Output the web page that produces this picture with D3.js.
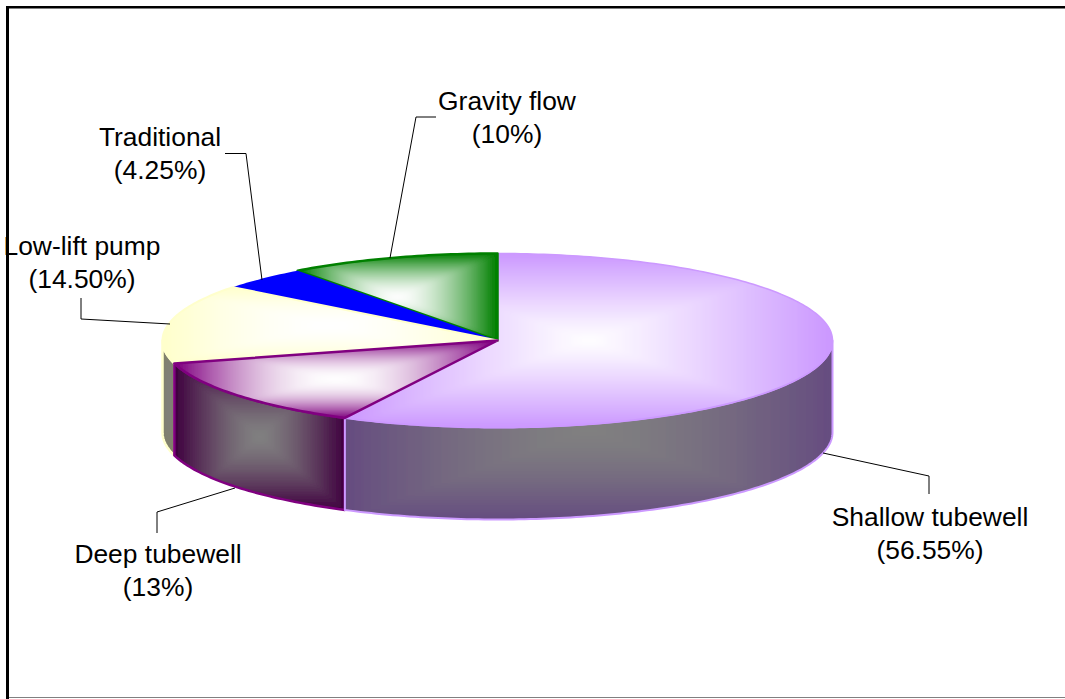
<!DOCTYPE html>
<html>
<head>
<meta charset="utf-8">
<script src="https://cdn.jsdelivr.net/npm/d3@7/dist/d3.min.js"></script>
<style>
html,body{margin:0;padding:0;background:#fff;overflow:hidden}
svg{display:block}
text{font-family:"Liberation Sans",Arial,sans-serif;fill:#000}
</style>
</head>
<body>
<script>
const categories = ["Shallow tubewell", "Deep tubewell", "Low-lift pump", "Traditional", "Gravity flow"];
const values = [56.55, 13, 14.5, 4.25, 10];
const valueLabels = ["(56.55%)", "(13%)", "(14.50%)", "(4.25%)", "(10%)"];
const topColors = ["#CC99FF", "#800080", "#FFFFCC", "#0000FF", "#008000"];
const wallColors = ["#664D80", "#400040", "#808066", "#000080", "#004000"];
const strokeColors = ["#CC99FF", "#800080", "#FFFFCC", "#0000FF", "#008000"];

const W = 1065, H = 699;
const cx = 497.5, cy = 340.5, rx = 335, ry = 87, depth = 92;
const sx = d3.scaleLinear().domain([-1, 1]).range([cx - rx, cx + rx]);
const sy = d3.scaleLinear().domain([-1, 1]).range([cy - ry, cy + ry]);

// gradient falloff and stroke of each top face, in category order
const topStyle = [{power: 1.15, sw: 1.5}, {power: 1.9, sw: 2.5}, {power: 1.6, sw: 2}, {power: 1, sw: 0}, {power: 1.6, sw: 2.5}];

// label + leader layout (pixels), in category order
const labelLayout = [
  {x: 930, y: 526, leader: [[823, 453], [929, 476], [929, 494]]},
  {x: 158, y: 563, leader: [[235, 488], [157, 512], [157, 533]]},
  {x: 82,  y: 255, leader: [[170, 324], [81, 319], [81, 298]]},
  {x: 160, y: 146, leader: [[262, 280], [246, 153.5], [225, 153.5]]},
  {x: 507, y: 110, leader: [[390, 258], [416, 117], [436, 117]]}
];

const arcs = d3.pie().sort(null).value(d => d)(values);

const rimPoint = a => [sx(Math.sin(a)), sy(-Math.cos(a))];
function rim(a0, a1) {
  const n = Math.max(2, Math.ceil(Math.abs(a1 - a0) / (Math.PI / 180)));
  return d3.range(n + 1).map(i => rimPoint(a0 + (a1 - a0) * i / n));
}
const line = d3.line();
const closed = pts => line(pts) + "Z";
const bbox = pts => {
  const [x0, x1] = d3.extent(pts, p => p[0]);
  const [y0, y1] = d3.extent(pts, p => p[1]);
  return {x0, x1, y0, y1};
};

const svg = d3.select("body").append("svg").attr("width", W).attr("height", H);
const defs = svg.append("defs");
defs.append("filter").attr("id", "soft").attr("x", "-10%").attr("y", "-10%").attr("width", "120%").attr("height", "120%")
  .append("feGaussianBlur").attr("stdDeviation", 2.5);

// rectangular "box" gradient: nested rectangles clipped to a shape
function boxFill(id, pts, edge, centre, stroke, sw, power) {
  defs.append("clipPath").attr("id", id).append("path").attr("d", closed(pts));
  const g = svg.append("g");
  const inner = g.append("g").attr("clip-path", `url(#${id})`);
  const b = bbox(pts);
  const mx = (b.x0 + b.x1) / 2, my = (b.y0 + b.y1) / 2;
  const hw = (b.x1 - b.x0) / 2, hh = (b.y1 - b.y0) / 2;
  const col = d3.interpolateRgb(centre, edge);
  inner.append("rect").attr("x", b.x0 - 12).attr("y", b.y0 - 12)
    .attr("width", b.x1 - b.x0 + 24).attr("height", b.y1 - b.y0 + 24).attr("fill", edge);
  const steps = d3.range(28, 0, -1).map(i => i / 28);
  inner.append("g").attr("filter", "url(#soft)").selectAll("rect").data(steps).join("rect")
    .attr("x", s => mx - hw * s)
    .attr("y", s => my - hh * s)
    .attr("width", s => 2 * hw * s)
    .attr("height", s => 2 * hh * s)
    .attr("fill", s => col(Math.pow(s, power)));
  g.append("path").attr("d", closed(pts)).attr("fill", "none")
    .attr("stroke", stroke).attr("stroke-width", sw).attr("stroke-linejoin", "round");
}

// walls: only the front half of the rim (between 90° and 270°)
const frontA = Math.PI / 2, frontB = 3 * Math.PI / 2;
[2, 1, 0].forEach(i => {
  const d = arcs[i];
  const a0 = Math.max(d.startAngle, frontA), a1 = Math.min(d.endAngle, frontB);
  if (a1 <= a0) return;
  const top = rim(a0, a1);
  const bottom = top.map(p => [p[0], p[1] + depth]).reverse();
  boxFill("wall" + i, top.concat(bottom), wallColors[i], "#808080", strokeColors[i], i === 0 ? 2 : 2.5, 1.5);
});

// top faces, drawn last-to-first so the first slices' edges sit on top as in the reference
const drawOrder = [0, 4, 3, 2, 1];
drawOrder.forEach(i => {
  const d = arcs[i];
  const pts = [[sx(0), sy(0)]].concat(rim(d.startAngle, d.endAngle));
  if (categories[i] === "Traditional") {
    svg.append("path").attr("d", closed(pts)).attr("fill", topColors[i]);
  } else {
    boxFill("top" + i, pts, topColors[i], "#FFFFFF", strokeColors[i], topStyle[i].sw, topStyle[i].power);
  }
});

// leader lines
svg.append("g").selectAll("path").data(labelLayout).join("path")
  .attr("d", d => line(d.leader))
  .attr("fill", "none").attr("stroke", "#000").attr("stroke-width", 1);

// frame
svg.append("rect").attr("x", 6).attr("y", 6).attr("width", W).attr("height", 2.5).attr("fill", "#000");
svg.append("rect").attr("x", 6).attr("y", 6).attr("width", 3).attr("height", H).attr("fill", "#000");
svg.append("rect").attr("x", 9).attr("y", 697).attr("width", W).attr("height", 1).attr("fill", "#808080");

// labels
const labels = svg.append("g").attr("font-size", 26.4).attr("text-anchor", "middle");
labels.selectAll("text.name").data(categories).join("text").attr("class", "name")
  .attr("x", (d, i) => labelLayout[i].x).attr("y", (d, i) => labelLayout[i].y).text(d => d);
labels.selectAll("text.val").data(valueLabels).join("text").attr("class", "val")
  .attr("x", (d, i) => labelLayout[i].x).attr("y", (d, i) => labelLayout[i].y + 33).text(d => d);
</script>
</body>
</html>
